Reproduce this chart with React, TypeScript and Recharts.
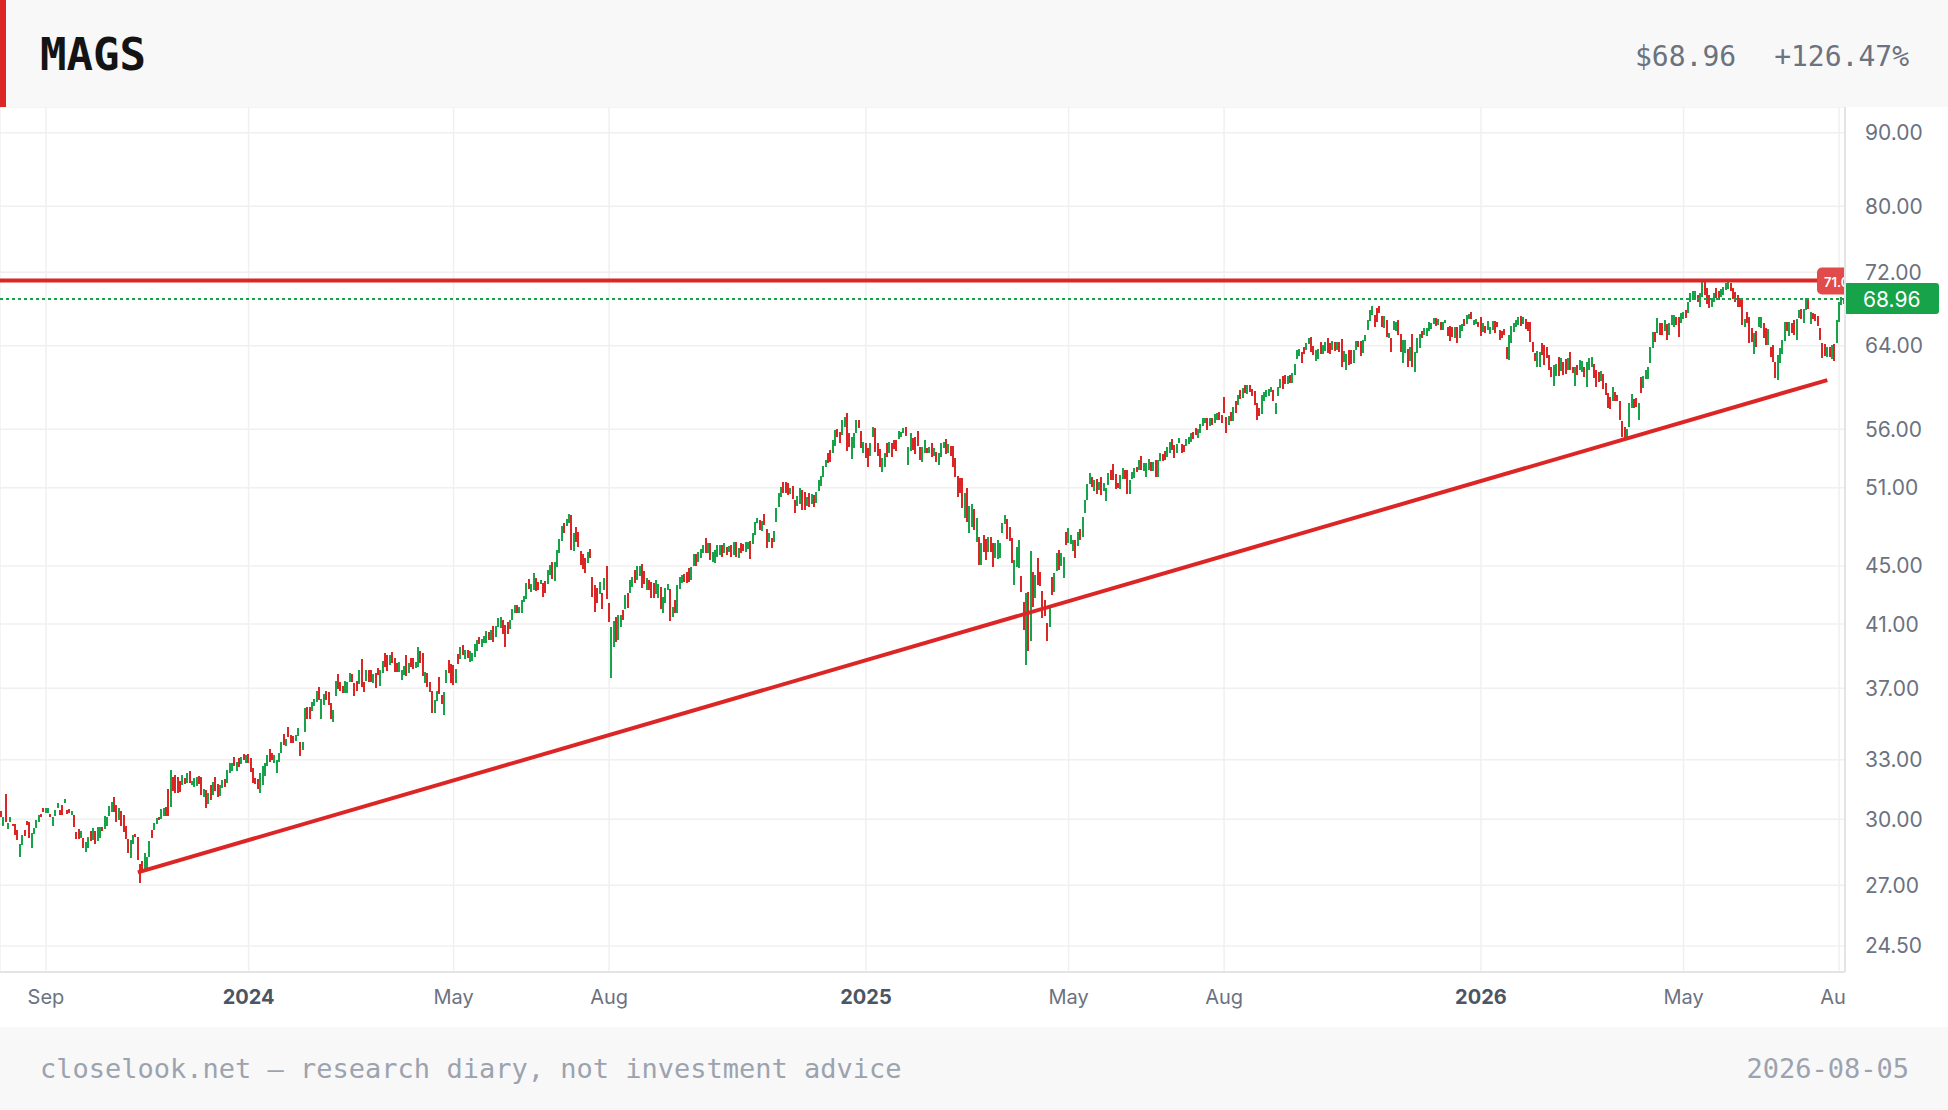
import React from "react";
import {
  ComposedChart,
  Bar,
  XAxis,
  YAxis,
  CartesianGrid,
  ReferenceLine,
} from "recharts";

const UP = "#16a34a";
const DOWN = "#dc2626";
const AXIS_TEXT = "#6b7280";
const MONO = '"DejaVu Sans Mono", monospace';
const SANS = 'Inter, "Noto Sans", sans-serif';

const CHART_W = 1948;
const CHART_H = 920;
const AXIS_W = 103;
const PLOT_RIGHT = CHART_W - AXIS_W;

const ticker = "MAGS";
const lastPrice = 68.96;
const changePct = 126.47;
const resistance = 71.04;
const trendFrom = { date: "2023-10-26", price: 27.56 };
const trendTo = { date: "2026-07-27", price: 60.58 };
const asOf = "2026-08-05";
const footerNote = "closelook.net — research diary, not investment advice";

const yTicks = [24.5, 27, 30, 33, 37, 41, 45, 51, 56, 64, 72, 80, 90];
const xTickDates = [
  "2023-09-01", "2024-01-01", "2024-05-01", "2024-08-01", "2025-01-01",
  "2025-05-01", "2025-08-01", "2026-01-01", "2026-05-01", "2026-08-03",
];
const xTickLabels = ["Sep", "2024", "May", "Aug", "2025", "May", "Aug", "2026", "May", "Aug"];

// daily opens, one per weekday from Mon 7 Aug 2023
const opens = [
  30.40, 29.70, 31.24, 29.52, 29.89, 29.78, 29.78, 29.49, 28.26, 28.79,
  29.49, 29.92, 29.89, 28.66, 29.29, 29.57, 29.89, 30.26, 30.53, 30.29,
  30.30, 30.26, 29.70, 30.18, 30.56, 30.45, 30.68, 30.81, 30.46, 30.49,
  30.21, 30.21, 29.40, 29.52, 29.13, 29.10, 28.48, 28.64, 29.44, 29.02,
  29.44, 28.99, 29.10, 29.65, 29.52, 29.70, 30.16, 30.37, 31.09, 30.70,
  29.97, 30.40, 30.21, 29.68, 29.05, 28.20, 28.84, 29.30, 29.18, 27.92,
  28.06, 27.73, 27.73, 28.26, 29.49, 29.49, 29.76, 30.10, 30.00, 30.16,
  30.58, 31.47, 30.62, 32.12, 32.20, 32.12, 31.91, 31.70, 32.07, 31.80,
  32.41, 31.67, 31.61, 31.65, 32.16, 32.12, 31.10, 31.44, 30.77, 31.70,
  31.19, 32.12, 31.75, 31.15, 31.52, 31.98, 31.78, 32.29, 32.42, 33.16,
  32.42, 33.08, 32.77, 33.29, 32.85, 33.29, 33.12, 32.58, 32.04, 31.98,
  31.31, 31.70, 32.16, 32.69, 33.56, 33.38, 32.85, 32.29, 32.90, 33.34,
  34.37, 33.74, 34.76, 34.33, 34.28, 34.02, 34.30, 33.93, 33.52, 34.52,
  35.89, 35.92, 35.69, 35.96, 36.21, 37.05, 35.20, 36.05, 36.83, 36.79,
  36.14, 35.07, 36.56, 37.83, 37.39, 37.15, 36.73, 36.75, 37.35, 37.85,
  37.29, 37.43, 37.23, 38.75, 37.39, 37.43, 38.09,
  38.09, 37.30, 37.93, 38.23, 37.15, 37.93, 39.12, 39.02, 38.40, 39.18,
  38.85, 38.54, 37.99, 37.49, 37.79, 39.02, 37.89, 38.81, 38.81, 38.25,
  38.29, 39.26, 39.12, 37.33, 37.93, 37.39, 36.85, 35.58, 36.25, 37.65,
  36.60, 35.44, 37.29, 38.71, 38.44, 38.40, 37.29, 39.08, 38.75, 39.65,
  38.75, 39.33, 38.61, 38.65, 38.91, 39.29, 40.18, 39.54, 39.80, 39.76,
  40.50, 40.00, 40.87, 40.18, 40.84, 40.76, 41.27, 40.94, 41.16, 40.66,
  41.27, 41.75, 42.27, 41.72, 41.72, 42.50, 42.66, 44.04, 43.18, 43.30,
  44.16, 43.87, 43.69, 43.76, 43.95, 43.71, 44.35, 45.31, 43.94, 44.95,
  45.96, 46.85, 48.17, 47.97, 48.17, 48.82, 46.11, 47.92, 47.54, 46.09,
  45.87, 45.55, 45.19, 46.21, 44.19, 43.64, 43.46, 43.02, 43.07, 43.30,
  45.02, 42.42, 37.62, 39.50, 41.49, 39.97, 40.84, 41.93, 42.00, 43.12,
  43.07, 43.52, 44.71, 43.99, 44.28, 45.14, 44.66, 43.30, 43.99, 43.87,
  43.76, 43.02, 42.77, 43.49, 41.75, 42.38, 43.30, 43.37, 41.49, 42.61,
  41.75, 43.37, 43.80, 44.40, 44.59, 44.83, 44.00, 45.00, 45.85, 45.31,
  45.55, 45.97, 47.03, 45.92, 46.65, 45.31, 45.19, 45.66, 45.79, 46.53,
  45.92, 46.40, 46.04, 46.53, 45.79, 46.77, 45.55,
  46.65, 46.60, 46.04, 46.21, 46.82, 46.58, 47.28, 48.20, 48.43, 47.61,
  48.90, 47.74, 46.77, 47.07, 46.77, 48.30, 49.48, 50.28, 51.49, 51.49,
  51.35, 50.45, 51.16, 50.00, 49.52, 49.68, 50.81, 50.62, 49.52, 50.59,
  49.68, 50.41, 49.74, 50.76, 51.14, 51.91, 52.74, 53.94, 54.17, 53.94,
  54.51, 56.02, 55.78, 55.48, 56.23, 57.44, 55.63, 53.37, 54.31, 55.69,
  56.83, 55.87, 53.88, 54.75, 54.31, 53.65, 55.28, 56.08, 54.81, 54.23,
  52.32, 52.74, 54.81, 53.88, 54.75, 55.04, 55.04, 55.10, 55.28, 55.70,
  56.17, 52.89, 54.11, 55.24, 55.28, 55.87, 54.40, 53.17, 53.88, 54.31,
  53.94, 54.75, 53.65, 54.02, 52.89, 53.55, 54.31, 55.10, 53.88, 54.51,
  54.51, 53.45, 51.96, 51.77, 51.77, 48.56, 50.94, 47.41, 47.92, 49.26,
  46.77, 47.11, 45.07, 47.28, 46.95, 46.04, 47.11, 46.65, 45.55, 45.48,
  45.55, 47.41, 48.12, 48.48, 47.92, 47.03, 43.64, 44.95, 44.83, 44.28,
  42.49, 38.40, 43.18, 39.93, 44.59, 42.73, 45.60, 44.54, 43.23, 42.61,
  41.10, 40.84, 44.19, 43.18, 44.66, 46.16, 45.00, 44.11, 47.48, 46.65,
  46.58, 46.11, 46.90, 46.48, 47.74, 47.10, 48.95, 50.00, 51.30, 51.91,
  50.76, 51.69, 50.81, 51.91, 50.76, 49.92, 51.22,
  52.46, 52.97, 52.10, 51.40, 50.92, 51.71, 52.46, 52.46, 50.50, 51.71,
  51.77, 52.70, 52.46, 53.65, 52.40, 51.91, 52.46, 53.17, 52.40, 53.31,
  51.91, 53.20, 53.82, 54.08, 53.60, 53.94, 55.10, 54.60, 53.88, 54.75,
  54.69, 54.60, 54.54, 54.69, 54.89, 55.78, 56.14, 55.25, 55.69, 56.33,
  56.53, 56.98, 56.30, 56.98, 56.58, 56.83, 57.59, 57.25, 58.93, 57.13,
  56.37, 57.59, 56.74, 58.59, 58.20, 59.62, 58.84, 60.10, 59.24, 60.10,
  59.68, 59.52, 58.36, 57.97, 57.37, 58.61, 58.99, 59.05, 59.46, 59.62,
  57.37, 59.05, 59.78, 60.97, 61.07, 60.19, 61.07, 60.32, 61.07, 62.65,
  63.00, 63.40, 63.84, 63.57, 64.15, 64.87, 64.00, 62.48, 62.65, 64.35,
  63.13, 63.47, 64.77, 64.31, 63.57, 64.42, 63.57, 64.42, 64.66, 62.38,
  61.56, 63.57, 63.57, 62.22, 63.57, 64.52, 64.52, 63.29, 64.52, 65.64,
  66.62, 67.23, 67.23, 68.02, 68.21, 67.12, 65.81, 66.69, 64.80, 64.77,
  65.64, 65.57, 66.69, 65.22, 62.28, 63.23, 63.64, 62.48, 65.22, 61.39,
  63.23, 63.74, 65.57, 65.11, 65.04, 65.57, 65.71, 66.30, 66.87, 66.16,
  66.51, 65.64, 66.40, 65.99, 66.06, 65.92, 64.77, 65.99, 64.77, 65.57,
  66.80, 66.27, 66.80, 67.52, 66.16, 66.23, 66.51,
  66.98, 65.46, 66.06, 65.64, 65.22, 65.64, 66.59, 66.51, 65.64, 65.57,
  65.71, 63.84, 62.55, 64.31, 65.46, 65.92, 66.16, 67.12, 66.23, 66.76,
  66.51, 66.51, 64.42, 63.30, 61.89, 61.89, 64.31, 64.08, 63.91, 63.04,
  61.89, 60.00, 60.97, 62.89, 61.49, 62.38, 62.62, 61.56, 63.40, 61.89,
  60.00, 62.06, 61.56, 61.39, 61.83, 59.87, 61.56, 61.89, 62.12, 61.56,
  61.39, 60.49, 61.17, 60.26, 59.30, 58.99, 58.59, 59.46, 59.14, 58.61,
  56.77, 56.23, 55.30, 56.17, 57.90, 58.74, 58.84, 56.83, 60.91, 59.84,
  60.65, 60.65, 62.22, 63.74, 65.46, 65.36, 66.41, 66.34, 65.57, 66.23,
  65.11, 66.16, 65.99, 67.05, 67.05, 66.41, 66.76, 67.77, 67.41, 68.64,
  69.04, 68.86, 69.41, 68.13, 69.15, 70.91, 70.16, 69.41, 68.06, 68.64,
  70.16, 69.89, 69.22, 69.41, 69.97, 70.05, 70.72, 70.16, 69.78, 69.41,
  69.04, 69.04, 66.00, 67.59, 67.05, 65.81, 63.16, 65.57, 65.92, 65.81,
  66.34, 65.81, 64.08, 63.91, 64.08, 62.38, 60.58, 62.28, 63.16, 64.52,
  66.51, 65.01, 66.41, 66.69, 64.59, 66.87, 67.85, 66.41, 67.77, 69.04,
  66.27, 67.41, 67.34, 67.12, 65.80, 64.31, 64.18, 62.82, 63.84, 62.62,
  64.18, 64.24, 66.51, 68.32, 68.40,
];

// daily closes, same days as opens
const closes = [
  30.13, 30.13, 29.89, 29.84, 30.10, 29.70, 29.26, 29.02, 28.84, 29.26,
  29.21, 29.73, 29.10, 29.33, 29.57, 29.95, 30.21, 30.10, 30.37, 30.53,
  30.56, 30.10, 30.10, 30.45, 30.82, 30.21, 30.21, 30.97, 30.26, 30.29,
  30.42, 29.65, 29.08, 29.08, 29.44, 28.67, 28.94, 29.18, 28.99, 29.57,
  28.82, 29.63, 29.62, 29.45, 30.16, 30.13, 30.65, 30.84, 30.37, 29.89,
  30.53, 29.70, 29.38, 29.05, 28.41, 29.02, 29.26, 29.15, 28.11, 27.08,
  27.63, 28.41, 28.26, 28.97, 29.13, 29.81, 30.06, 29.95, 30.51, 30.56,
  30.16, 30.18, 32.46, 31.39, 31.31, 31.31, 31.36, 32.19, 31.73, 32.30,
  31.78, 31.90, 32.04, 32.12, 31.75, 31.19, 31.47, 30.53, 31.27, 30.94,
  31.86, 31.41, 31.07, 31.70, 31.95, 31.61, 32.46, 32.81, 32.81, 32.69,
  32.88, 32.63, 33.16, 32.99, 33.25, 32.85, 32.37, 31.78, 31.75, 31.47,
  32.29, 32.69, 32.81, 33.25, 32.90, 32.99, 33.25, 32.99, 33.34, 33.93,
  33.79, 34.11, 34.24, 33.91, 33.88, 34.33, 34.70, 33.22, 33.93, 35.83,
  35.22, 35.25, 36.21, 36.36, 36.83, 36.31, 36.35, 36.66, 36.31, 36.05,
  35.23, 35.73, 37.43, 36.95, 36.83, 36.73, 37.45, 37.39, 37.89, 37.39,
  36.56, 36.83, 38.09, 37.09, 36.79, 38.09, 37.39,
  37.39, 37.85, 37.01, 37.79, 38.09, 38.65, 38.29, 38.05, 39.02, 38.51,
  37.99, 37.99, 38.60, 38.09, 38.35, 37.73, 38.54, 38.29, 38.13, 38.58,
  39.54, 38.54, 37.75, 37.95, 37.06, 36.79, 35.54, 36.31, 36.83, 36.65,
  36.10, 36.79, 38.09, 37.89, 37.29, 37.19, 38.15, 38.46, 39.54, 39.02,
  39.33, 38.85, 39.28, 39.12, 39.71, 39.97, 39.71, 40.03, 40.22, 40.54,
  39.97, 40.60, 39.82, 40.87, 41.38, 41.49, 40.33, 39.54, 40.33, 41.27,
  41.98, 42.27, 41.75, 42.15, 42.61, 42.90, 43.76, 43.35, 43.71, 44.47,
  43.23, 43.30, 43.99, 42.80, 43.12, 44.71, 45.07, 44.04, 45.31, 46.16,
  46.95, 47.97, 47.41, 48.48, 48.90, 46.16, 47.41, 46.77, 46.40, 45.07,
  44.76, 44.47, 46.04, 45.55, 42.84, 41.82, 42.38, 43.87, 41.98, 44.11,
  42.66, 41.16, 40.84, 41.20, 39.86, 41.60, 41.60, 41.27, 42.96, 42.05,
  43.99, 44.19, 43.76, 45.00, 45.00, 43.46, 43.71, 44.11, 43.30, 42.73,
  42.73, 43.99, 43.69, 41.98, 42.80, 43.42, 43.70, 41.22, 42.15, 41.72,
  43.64, 44.23, 44.35, 43.87, 43.80, 43.87, 44.90, 45.85, 45.00, 46.04,
  46.21, 46.53, 45.92, 46.65, 45.43, 46.04, 46.16, 46.53, 46.53, 45.66,
  46.65, 45.79, 46.45, 45.66, 46.72, 45.66, 46.28,
  45.96, 46.11, 46.77, 46.72, 45.50, 47.41, 48.30, 48.60, 47.66, 48.38,
  48.04, 46.33, 47.46, 46.28, 47.61, 49.39, 50.54, 51.04, 50.54, 50.59,
  50.41, 51.00, 50.10, 48.95, 50.34, 51.00, 49.21, 49.21, 50.22, 49.47,
  50.46, 49.43, 50.67, 51.63, 51.98, 52.82, 53.31, 53.03, 53.17, 55.04,
  55.93, 55.28, 54.81, 56.83, 57.13, 54.11, 54.40, 55.28, 55.63, 56.83,
  56.08, 54.37, 54.89, 53.45, 52.69, 54.75, 56.17, 54.02, 53.69, 52.74,
  53.45, 53.94, 53.60, 54.89, 53.60, 54.23, 54.08, 55.87, 55.78, 56.10,
  55.39, 54.45, 55.63, 54.17, 53.82, 54.51, 53.30, 54.45, 55.04, 53.88,
  54.45, 53.60, 54.31, 53.17, 53.88, 54.75, 54.89, 53.82, 54.66, 53.65,
  52.74, 51.91, 50.27, 50.59, 49.34, 50.54, 48.30, 49.52, 49.68, 47.66,
  48.56, 45.07, 46.65, 46.04, 45.43, 47.15, 46.04, 44.95, 46.65, 46.90,
  46.70, 48.22, 48.82, 46.95, 46.85, 45.19, 45.43, 46.40, 46.90, 43.18,
  40.61, 43.07, 39.29, 46.09, 42.15, 44.35, 43.64, 43.59, 41.38, 41.56,
  39.93, 42.21, 42.96, 44.52, 45.96, 44.71, 45.96, 45.66, 46.53, 47.79,
  47.28, 46.90, 45.55, 47.48, 46.90, 48.70, 50.00, 51.30, 52.18, 51.04,
  51.63, 50.49, 51.49, 50.41, 51.35, 50.94, 52.23,
  51.63, 51.63, 50.86, 50.95, 52.04, 52.60, 51.71, 50.46, 51.60, 52.27,
  52.60, 52.30, 53.31, 52.46, 53.03, 53.03, 53.37, 52.40, 53.17, 51.91,
  53.31, 53.90, 53.25, 53.31, 54.45, 54.89, 54.17, 53.51, 54.69, 55.19,
  53.94, 54.02, 55.10, 55.34, 55.63, 55.13, 55.48, 55.99, 56.47, 56.98,
  56.98, 55.93, 56.98, 56.37, 57.37, 57.49, 56.83, 56.53, 57.49, 55.63,
  57.19, 56.77, 58.05, 57.49, 59.14, 58.74, 59.78, 59.30, 60.10, 59.40,
  59.05, 58.20, 56.83, 57.19, 59.14, 59.46, 59.62, 59.68, 59.87, 58.61,
  58.36, 59.87, 60.65, 59.71, 60.16, 60.97, 60.26, 61.30, 62.15, 63.57,
  63.64, 62.28, 63.16, 64.24, 64.77, 63.40, 63.04, 63.57, 63.64, 63.16,
  64.08, 64.42, 63.29, 63.13, 64.49, 63.47, 64.42, 63.40, 61.83, 63.47,
  63.16, 62.06, 62.12, 63.57, 64.49, 63.91, 62.99, 64.59, 65.11, 66.69,
  67.77, 68.21, 65.92, 66.51, 67.48, 65.99, 67.12, 64.87, 65.30, 63.40,
  66.62, 66.51, 65.11, 63.40, 64.59, 64.59, 61.89, 63.91, 61.83, 63.40,
  64.77, 65.22, 64.77, 65.88, 65.81, 66.48, 66.41, 66.90, 66.06, 66.80,
  65.64, 66.44, 66.70, 65.01, 64.52, 64.94, 65.99, 64.24, 66.16, 66.27,
  66.06, 67.23, 67.34, 66.80, 66.69, 66.76, 65.92,
  65.01, 66.34, 65.29, 66.59, 65.92, 66.59, 65.36, 65.92, 64.59, 64.77,
  65.11, 62.62, 65.11, 66.06, 66.41, 66.69, 67.05, 66.06, 67.05, 65.71,
  65.57, 64.42, 63.40, 62.50, 63.50, 63.40, 63.04, 62.06, 62.72, 61.56,
  60.84, 62.06, 62.15, 60.97, 62.72, 61.07, 61.17, 62.72, 61.56, 61.23,
  61.89, 61.07, 62.55, 62.48, 60.91, 62.38, 62.79, 62.82, 60.74, 59.87,
  60.42, 61.49, 59.68, 59.14, 57.90, 57.84, 59.87, 58.61, 58.61, 56.83,
  55.34, 55.19, 56.00, 58.36, 59.21, 57.97, 58.04, 58.42, 59.36, 60.97,
  61.56, 61.83, 63.84, 65.46, 64.42, 66.87, 65.11, 65.11, 66.69, 64.59,
  66.41, 67.23, 67.23, 66.16, 64.94, 67.48, 67.59, 66.87, 68.67, 69.63,
  69.89, 69.89, 68.64, 69.60, 70.91, 69.41, 68.42, 68.02, 69.04, 69.67,
  69.04, 68.86, 70.05, 70.35, 70.80, 70.91, 69.89, 68.94, 68.67, 68.13,
  68.13, 66.16, 66.80, 66.34, 64.31, 64.42, 65.29, 63.84, 66.98, 67.05,
  64.77, 64.08, 65.71, 62.89, 62.38, 60.74, 63.04, 63.74, 64.59, 66.44,
  65.57, 66.51, 65.29, 65.11, 66.76, 67.77, 66.76, 67.85, 69.04, 67.85,
  67.52, 66.76, 66.62, 66.09, 64.60, 62.72, 62.96, 63.84, 62.89, 64.08,
  62.48, 66.69, 68.67, 69.22, 68.96,
];

// trading calendar: weekdays only
const dates: string[] = [];
for (let t = Date.UTC(2023, 7, 7); dates.length < closes.length; t += 86400000) {
  const wd = new Date(t).getUTCDay();
  if (wd !== 0 && wd !== 6) dates.push(new Date(t).toISOString().slice(0, 10));
}

const candles = dates.map((date, i) => ({ date, open: opens[i], close: closes[i] }));

const bodyRange = (d: { open: number; close: number }) => [
  Math.min(d.open, d.close),
  Math.max(d.open, d.close),
];

// snap bodies to whole pixels so the 2px candles stay crisp
function CandleBody(props: any) {
  const { x, y, width, height, payload } = props;
  if (x == null || y == null || !payload) return null;
  const top = height < 0 ? y + height : y;
  const h = Math.max(Math.abs(height), 1);
  return (
    <rect
      x={Math.round(x)}
      y={top}
      width={width}
      height={h}
      fill={payload.close >= payload.open ? UP : DOWN}
      shapeRendering="crispEdges"
    />
  );
}

function PriceTick({ x, y, payload }: any) {
  return (
    <text
      x={x}
      y={y}
      fill={AXIS_TEXT}
      fontSize={21}
      fontFamily={SANS}
      dominantBaseline="central"
    >
      {Number(payload.value).toFixed(2)}
    </text>
  );
}

function DateTick({ x, y, payload, index }: any) {
  const label = xTickLabels[xTickDates.indexOf(payload.value)] ?? "";
  const isYear = /^\d{4}$/.test(label);
  const id = `date-tick-clip-${index}`;
  return (
    <g>
      <clipPath id={id}>
        <rect x={0} y={0} width={PLOT_RIGHT} height={CHART_H} />
      </clipPath>
      <text
        x={x}
        y={y + 25}
        textAnchor="middle"
        dominantBaseline="central"
        clipPath={`url(#${id})`}
        fill={isYear ? "#4b5563" : AXIS_TEXT}
        fontWeight={isYear ? 700 : 400}
        fontSize={20}
        fontFamily={SANS}
      >
        {label}
      </text>
    </g>
  );
}

function LastPriceTag({ viewBox }: any) {
  if (!viewBox) return null;
  const right = viewBox.x + viewBox.width;
  const y = viewBox.y;
  return (
    <g>
      <rect x={right - 1} y={y - 16} width={95} height={31} rx={3} fill={UP} />
      <text
        x={right + 18}
        y={y}
        fill="#fff"
        fontSize={21}
        fontFamily={SANS}
        dominantBaseline="central"
      >
        {lastPrice.toFixed(2)}
      </text>
    </g>
  );
}

function LevelTag({ viewBox }: any) {
  if (!viewBox) return null;
  const right = viewBox.x + viewBox.width;
  const y = viewBox.y;
  return (
    <g>
      <clipPath id="level-tag-clip">
        <rect x={viewBox.x} y={y - 20} width={viewBox.width} height={40} />
      </clipPath>
      <g clipPath="url(#level-tag-clip)">
        <rect x={right - 28} y={y - 13} width={54} height={27} rx={5} fill="#e14b4b" />
        <text
          x={right - 21}
          y={y + 1}
          fill="#fff"
          fontSize={13}
          fontWeight={600}
          fontFamily={SANS}
          dominantBaseline="central"
        >
          {resistance.toFixed(2)}
        </text>
      </g>
    </g>
  );
}

export default function App() {
  return (
    <div style={{ width: CHART_W, height: 1110, background: "#fff", overflow: "hidden" }}>
      <style>{"body{margin:0}"}</style>
      <div
        style={{
          position: "relative",
          height: 107,
          background: "#f8f8f8",
          display: "flex",
          alignItems: "center",
          justifyContent: "space-between",
          padding: "0 39px 0 40px",
          boxSizing: "border-box",
        }}
      >
        <div style={{ position: "absolute", left: 0, top: 0, bottom: 0, width: 6, background: DOWN }} />
        <div style={{ fontFamily: MONO, fontSize: 44, fontWeight: 700, color: "#141414", marginTop: 2 }}>
          {ticker}
        </div>
        <div style={{ fontFamily: MONO, fontSize: 28, color: AXIS_TEXT, marginTop: 6 }}>
          <span>${lastPrice.toFixed(2)}</span>
          <span style={{ marginLeft: 38 }}>+{changePct.toFixed(2)}%</span>
        </div>
      </div>

      <ComposedChart
        width={CHART_W}
        height={CHART_H}
        data={candles}
        margin={{ top: 0, right: 0, bottom: 0, left: 0 }}
      >
        <CartesianGrid stroke="#f0f0f1" strokeWidth={1.5} />
        <XAxis
          dataKey="date"
          ticks={xTickDates}
          interval={0}
          height={55}
          tickLine={false}
          tickSize={0}
          tickMargin={0}
          axisLine={{ stroke: "#e4e4e7", strokeWidth: 2 }}
          tick={(p: any) => <DateTick {...p} />}
        />
        <YAxis
          orientation="right"
          scale="log"
          domain={[23.5, 93.77]}
          allowDataOverflow
          ticks={yTicks}
          interval={0}
          width={AXIS_W}
          tickLine={false}
          tickSize={0}
          tickMargin={20}
          axisLine={{ stroke: "#e4e4e7", strokeWidth: 2 }}
          tick={(p: any) => <PriceTick {...p} />}
        />
        <Bar
          dataKey={bodyRange}
          barSize={2}
          shape={(p: any) => <CandleBody {...p} />}
          isAnimationActive={false}
        />
        <ReferenceLine
          segment={[
            { x: trendFrom.date, y: trendFrom.price },
            { x: trendTo.date, y: trendTo.price },
          ]}
          stroke={DOWN}
          strokeWidth={4}
        />
        <ReferenceLine y={resistance} stroke={DOWN} strokeWidth={4} label={<LevelTag />} />
        <ReferenceLine
          y={lastPrice}
          stroke={UP}
          strokeWidth={2}
          strokeDasharray="3 3"
          label={<LastPriceTag />}
        />
      </ComposedChart>

      <div
        style={{
          height: 83,
          background: "#f8f8f8",
          display: "flex",
          alignItems: "center",
          justifyContent: "space-between",
          padding: "0 39px 0 40px",
          boxSizing: "border-box",
          fontFamily: MONO,
          fontSize: 27,
          color: "#9ca3af",
        }}
      >
        <span>{footerNote}</span>
        <span>{asOf}</span>
      </div>
    </div>
  );
}
